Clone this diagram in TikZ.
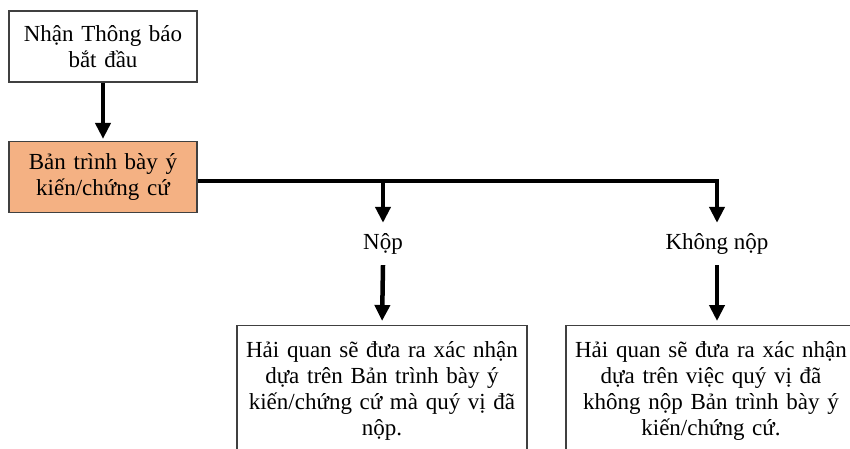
\documentclass[tikz,border=0pt]{standalone}
\usepackage{fontspec}
\setmainfont{Liberation Serif}
\usetikzlibrary{arrows.meta}
\definecolor{evfill}{HTML}{F4B183}
\definecolor{edge}{HTML}{404040}
\begin{document}
\begin{tikzpicture}[x=1pt,y=-1pt,
	font=\fontsize{23}{26}\selectfont,
	box/.style={draw=edge,line width=1.2pt,align=center,inner sep=0pt},
	topbox/.style={box,minimum width=188pt,minimum height=71pt,text width=180pt},
	resbox/.style={box,anchor=north,minimum width=290pt,text width=284pt,inner ysep=16pt},
	lbl/.style={inner sep=0pt,minimum height=42pt},
	bus/.style={line width=4.5pt},
	arrow/.style={bus,-{Triangle[width=15pt,length=16pt]}}]
	\useasboundingbox (0,0) rectangle (850,448);
	\clip (0,0) rectangle (850,448);

	\node[topbox] (start) at (103,46.5) {Nhận Thông báo\\bắt đầu};
	\node[topbox,fill=evfill] (ev) at (103,177) {Bản trình bày ý\\kiến/chứng cứ};

	\node[lbl] (nop) at (383,244) {Nộp};
	\node[lbl] (khong) at (717,244) {Không nộp};

	% result boxes run past the bottom edge
	\node[resbox] (res1) at (382,325)
		{Hải quan sẽ đưa ra xác nhận\\dựa trên Bản trình bày ý\\kiến/chứng cứ mà quý vị đã\\nộp.\\[40pt]};
	\node[resbox] (res2) at (711,325)
		{Hải quan sẽ đưa ra xác nhận\\dựa trên việc quý vị đã\\không nộp Bản trình bày ý\\kiến/chứng cứ.\\[40pt]};

	\draw[arrow,shorten >=2pt] (start) -- (ev);
	\coordinate (fork) at (383,181);
	\draw[arrow] ([yshift=-4pt]ev.east) -| (khong.north);
	\draw[arrow] (fork) -- (nop.north);
	\draw[arrow,shorten >=4pt] (nop.south) -- (res1.north);
	\draw[arrow,shorten >=4pt] (khong.south) -- (khong.south |- res2.north);
\end{tikzpicture}
\end{document}
